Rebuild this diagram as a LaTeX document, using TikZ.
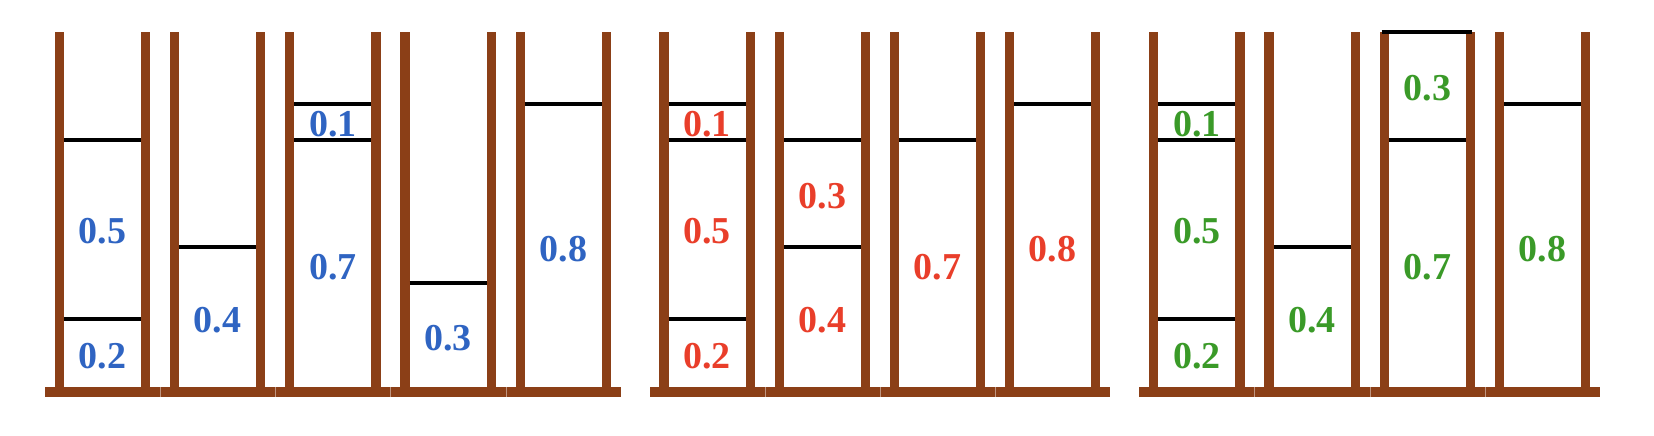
\documentclass[tikz,border=0pt]{standalone}
\usepackage{fontspec}
\setmainfont{Liberation Serif}
\definecolor{wood}{HTML}{8B3F17}
\definecolor{cblue}{HTML}{2F64C2}
\definecolor{cred}{HTML}{E93E2A}
\definecolor{cgreen}{HTML}{3A9A28}
\newcommand\mycont[1]{%
  \fill[wood] ({#1-4.6},32) rectangle ({#1+4.6},392);
  \fill[wood] ({#1+86.3-4.6},32) rectangle ({#1+86.3+4.6},392);
  \fill[wood] ({#1-14.3},387.3) rectangle ({#1+100.9},396.7);
}
\newcommand\mylvl[2]{%
  \draw[lvl] ({#1+4.6},{390-357*#2}) -- ({#1+86.3-4.6},{390-357*#2});
}
\newcommand\mylab[4]{%
  \node[num] (#1) at ({#2+43.15},{392-357*#3}) {#4};
}
\begin{document}
\begin{tikzpicture}[x=1pt,y=-1pt,
  lvl/.style={line width=4pt, black},
  seam/.style={line width=0.6pt, wood!55!white},
  num/.style={font=\bfseries\fontsize{38}{40}\selectfont, inner sep=0pt}]
\useasboundingbox (0,0) rectangle (1654,436);
% containers
\foreach \L in {59.3,174.5,289.7,404.9,520.1,663.9,779.1,894.3,1009.5,1153.7,1268.9,1384.1,1499.3}{\mycont{\L}}
% seams between base pieces
\foreach \L in {174.5,289.7,404.9,520.1,779.1,894.3,1009.5,1268.9,1384.1,1499.3}{
  \draw[seam] ({\L-14.3},387.3) -- ({\L-14.3},396.7);}
% panel 1 levels
\mylvl{59.3}{0.2}\mylvl{59.3}{0.7}
\mylvl{174.5}{0.4}
\mylvl{289.7}{0.7}\mylvl{289.7}{0.8}
\mylvl{404.9}{0.3}
\mylvl{520.1}{0.8}
% panel 2 levels
\mylvl{663.9}{0.2}\mylvl{663.9}{0.7}\mylvl{663.9}{0.8}
\mylvl{779.1}{0.4}\mylvl{779.1}{0.7}
\mylvl{894.3}{0.7}
\mylvl{1009.5}{0.8}
% panel 3 levels
\mylvl{1153.7}{0.2}\mylvl{1153.7}{0.7}\mylvl{1153.7}{0.8}
\mylvl{1268.9}{0.4}
\mylvl{1384.1}{0.7}
\draw[lvl] (1381.6,32.5) -- (1471.9,32.5);
\mylvl{1499.3}{0.8}
% panel 1 labels
\begin{scope}[text=cblue]
\mylab{a1}{59.3}{0.1}{0.2}
\mylab{a2}{59.3}{0.45}{0.5}
\mylab{a3}{174.5}{0.2}{0.4}
\mylab{a4}{289.7}{0.35}{0.7}
\mylab{a5}{289.7}{0.75}{0.1}
\mylab{a6}{404.9}{0.15}{0.3}
\mylab{a7}{520.1}{0.4}{0.8}
\end{scope}
% panel 2 labels
\begin{scope}[text=cred]
\mylab{b1}{663.9}{0.1}{0.2}
\mylab{b2}{663.9}{0.45}{0.5}
\mylab{b3}{663.9}{0.75}{0.1}
\mylab{b4}{779.1}{0.2}{0.4}
\mylab{b5}{779.1}{0.55}{0.3}
\mylab{b6}{894.3}{0.35}{0.7}
\mylab{b7}{1009.5}{0.4}{0.8}
\end{scope}
% panel 3 labels
\begin{scope}[text=cgreen]
\mylab{c1}{1153.7}{0.1}{0.2}
\mylab{c2}{1153.7}{0.45}{0.5}
\mylab{c3}{1153.7}{0.75}{0.1}
\mylab{c4}{1268.9}{0.2}{0.4}
\mylab{c5}{1384.1}{0.35}{0.7}
\mylab{c6}{1384.1}{0.85}{0.3}
\mylab{c7}{1499.3}{0.4}{0.8}
\end{scope}
\end{tikzpicture}
\end{document}
